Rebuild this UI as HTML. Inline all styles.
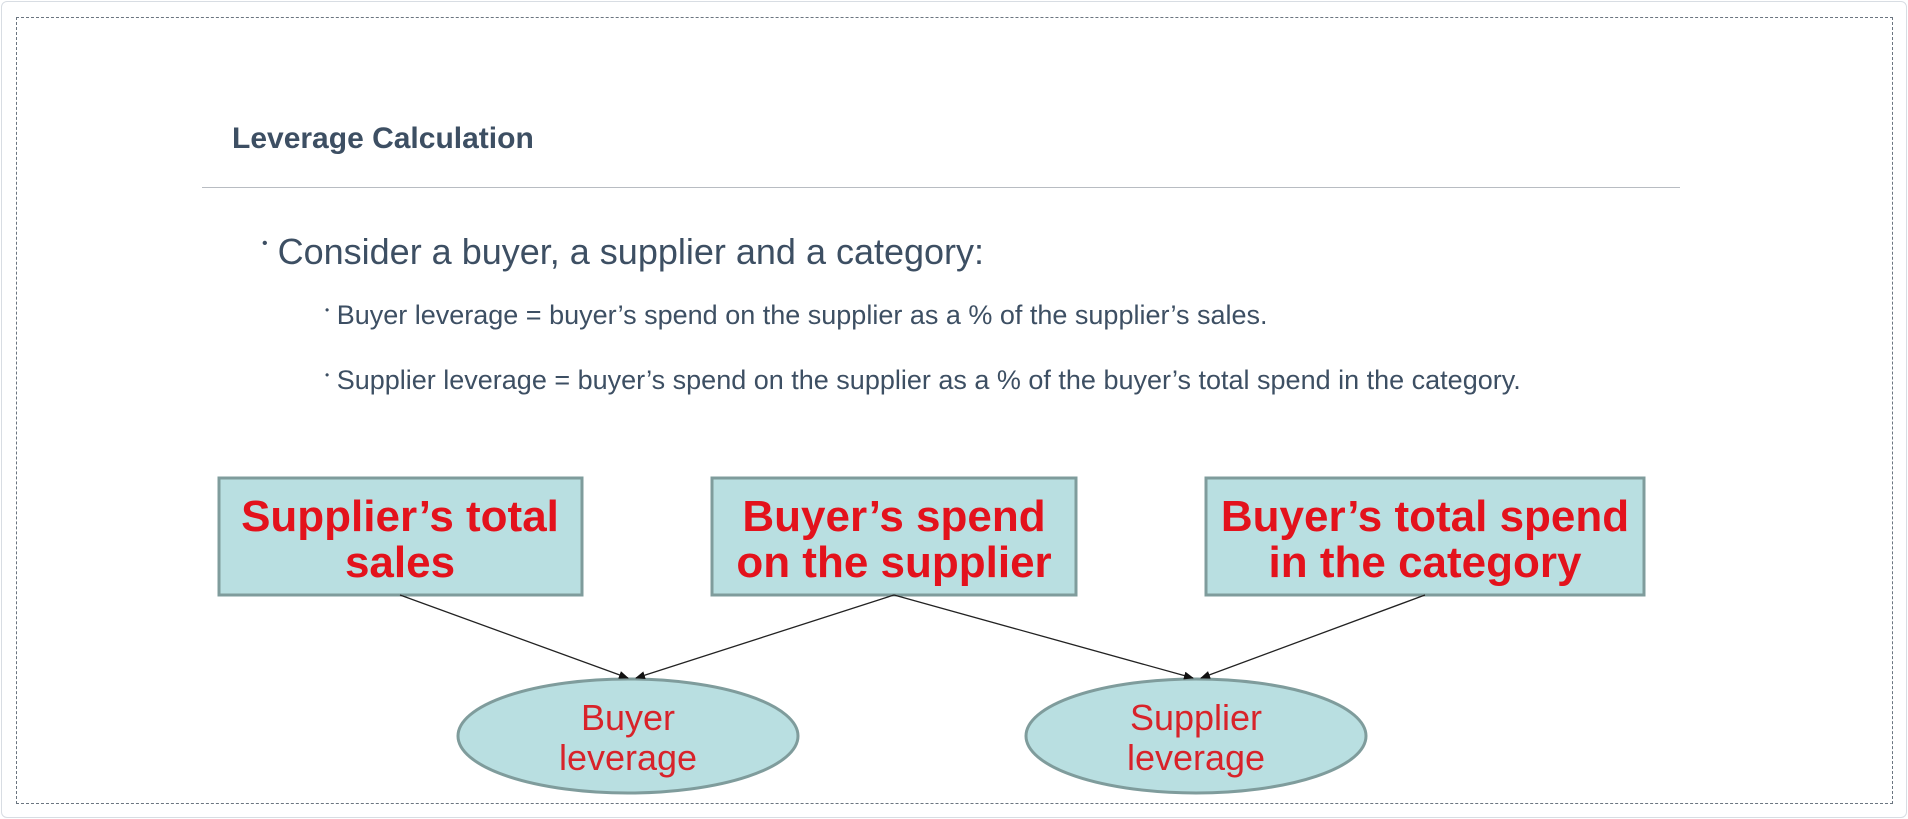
<!DOCTYPE html>
<html><head><meta charset="utf-8"><style>
html,body{margin:0;padding:0;background:#fff;width:1908px;height:819px;overflow:hidden;font-family:"Liberation Sans",sans-serif}
.frame{position:absolute;left:1px;top:1px;width:1904px;height:815px;border:1px solid #d8dde3;border-radius:6px}
.dash{position:absolute;left:16px;top:17px;width:1875px;height:785px;border:1px dashed #6b7580}
.t{position:absolute;color:#3d4f63;white-space:nowrap}
</style></head><body>
<div class="frame"></div>
<div class="dash"></div>
<div class="t" style="left:232px;top:122px;font-size:30px;font-weight:bold">Leverage Calculation</div>
<div style="position:absolute;left:202px;top:187px;width:1478px;height:1px;background:#b8bcc2"></div>
<div class="t" style="left:262px;top:231px;font-size:36px"><span style="font-size:16px;vertical-align:top;position:relative;top:4px">•</span> Consider a buyer, a supplier and a category:</div>
<div class="t" style="left:325px;top:300px;font-size:27px"><span style="font-size:12px;vertical-align:top;position:relative;top:3px">•</span> Buyer leverage = buyer’s spend on the supplier as a % of the supplier’s sales.</div>
<div class="t" style="left:325px;top:365px;font-size:27px"><span style="font-size:12px;vertical-align:top;position:relative;top:3px">•</span> Supplier leverage = buyer’s spend on the supplier as a % of the buyer’s total spend in the category.</div>
<svg width="1908" height="819" style="position:absolute;left:0;top:0">
<defs><marker id="a" markerWidth="10" markerHeight="8" refX="9" refY="4" orient="auto" markerUnits="userSpaceOnUse"><path d="M0,0 L10,4 L0,8z" fill="#111"/></marker></defs>
<g fill="#b9dfe1" stroke="#7f9c9c" stroke-width="3">
<rect x="219" y="478" width="363" height="117"/>
<rect x="712" y="478" width="364" height="117"/>
<rect x="1206" y="478" width="438" height="117"/>
<ellipse cx="628" cy="736" rx="170" ry="57"/>
<ellipse cx="1196" cy="736" rx="170" ry="57"/>
</g>
<g stroke="#222" stroke-width="1.3" marker-end="url(#a)">
<line x1="400" y1="595" x2="628" y2="678"/>
<line x1="894" y1="595" x2="636" y2="678"/>
<line x1="894" y1="595" x2="1193" y2="678"/>
<line x1="1425" y1="595" x2="1201" y2="678"/>
</g>
<g fill="#e3121c" font-family="Liberation Sans,sans-serif" text-anchor="middle" font-weight="bold" font-size="44">
<text x="400" y="531">Supplier’s total</text><text x="400" y="577">sales</text>
<text x="894" y="531">Buyer’s spend</text><text x="894" y="577">on the supplier</text>
<text x="1425" y="531">Buyer’s total spend</text><text x="1425" y="577">in the category</text>
</g>
<g fill="#d8232a" font-family="Liberation Sans,sans-serif" text-anchor="middle" font-size="36">
<text x="628" y="730">Buyer</text><text x="628" y="770">leverage</text>
<text x="1196" y="730">Supplier</text><text x="1196" y="770">leverage</text>
</g>
</svg>
</body></html>
